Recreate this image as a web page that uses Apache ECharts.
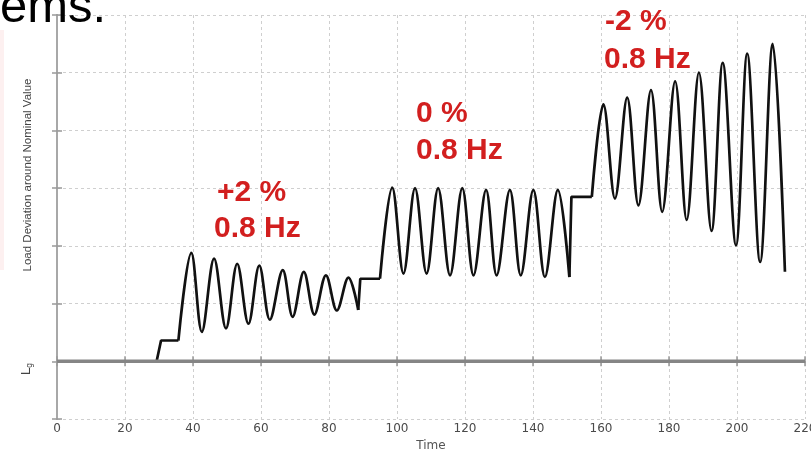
<!DOCTYPE html>
<html lang="en">

<head>
    <meta charset="UTF-8">
    <title>Load Deviation</title>
    <style>
        html, body { margin: 0; padding: 0; background: #fff; }
    </style>
</head>

<body>
    <div id="main" style="width: 811px; height: 449px;"></div>

    <script src="https://cdn.jsdelivr.net/npm/echarts@6/dist/echarts.min.js"></script>
    <script>
        // x ticks
        var timeTicks = [0, 20, 40, 60, 80, 100, 120, 140, 160, 180, 200, 220];

        // nominal value Lg
        var nominal = [[0, 0], [220, 0]];

        // lead-in step
        var leadIn = [[0, 0], [29.3, 0], [30.6, 0.36], [35.7, 0.36]];
        // +2 % swing
        var swing1 = [[35.7, 0.36], [39.5, 1.88], [42.6, 0.51], [46.2, 1.78], [49.7, 0.57], [53.0, 1.69], [56.3, 0.65],
            [59.5, 1.66], [62.6, 0.72], [66.4, 1.58], [69.3, 0.77], [72.6, 1.55], [75.7, 0.81], [79.1, 1.49],
            [82.3, 0.88], [85.7, 1.45], [88.6, 0.89]];
        var step2 = [[88.6, 0.89], [89.2, 1.43], [95.0, 1.43]];
        // 0 % swing
        var swing2 = [[95.0, 1.43], [98.6, 3.01], [101.9, 1.52], [105.3, 3.0], [108.7, 1.52], [112.1, 3.0], [115.6, 1.49],
            [119.2, 3.0], [122.5, 1.49], [126.2, 2.97], [129.3, 1.49], [133.2, 2.97], [136.4, 1.49], [140.1, 2.97],
            [143.5, 1.46], [147.3, 2.97], [150.7, 1.46]];
        var step3 = [[150.7, 1.46], [151.3, 2.85], [157.3, 2.85]];
        // -2 % swing
        var swing3 = [[157.3, 2.85], [160.7, 4.45], [164.1, 2.82], [167.7, 4.57], [171.0, 2.70], [174.7, 4.70], [178.0, 2.59],
            [181.8, 4.85], [185.2, 2.45], [188.8, 5.0], [192.5, 2.26], [195.8, 5.17], [199.7, 2.01], [203.0, 5.33],
            [206.8, 1.72], [210.5, 5.5], [214.1, 1.55]];

        var stepLabels = ['+2 %', '0 %', '-2 %'];
        var freqLabel = '0.8 Hz';

        window.onload = function () {
            var myChart = echarts.init(document.getElementById('main'));

            var frame = { show: true, lineStyle: { color: '#a8a8a8', width: 2 } };
            var innerTick = { show: true, inside: true, length: 5, lineStyle: { color: '#999', width: 1.5 } };
            var grid = { show: true, lineStyle: { color: '#cfcfcf', width: 1, type: [3, 3] } };

            function trace(data, smooth) {
                return {
                    type: 'line',
                    data: data,
                    smooth: smooth,
                    showSymbol: false,
                    silent: true,
                    lineStyle: { color: '#111', width: 2.7 },
                    z: 3
                };
            }

            function note(text, x, y) {
                return {
                    type: 'text', x: x, y: y, z: 10,
                    style: {
                        text: text, fill: '#d21f1f',
                        font: 'bold 30px "Liberation Sans", Arial, sans-serif',
                        textAlign: 'left', textVerticalAlign: 'middle'
                    }
                };
            }

            var option = {
                backgroundColor: '#fff',
                animation: false,
                grid: { left: 57, right: 6, top: 15, bottom: 30, containLabel: false, outerBoundsMode: 'none' },
                xAxis: [
                    {
                        type: 'value', min: timeTicks[0], max: timeTicks[timeTicks.length - 1], interval: 20,
                        name: 'Time', nameLocation: 'middle', nameGap: 17,
                        nameTextStyle: { color: '#555', fontSize: 12, fontFamily: 'DejaVu Sans' },
                        axisLine: frame, axisTick: innerTick, splitLine: grid,
                        axisLabel: { color: '#4a4a4a', fontSize: 12, fontFamily: 'DejaVu Sans', margin: 4 }
                    },
                    {
                        type: 'value', position: 'top', min: 0, max: 220, interval: 20,
                        axisLine: frame, axisTick: innerTick, axisLabel: { show: false }, splitLine: { show: false }
                    }
                ],
                yAxis: [
                    {
                        type: 'value', min: -1, max: 6, interval: 1,
                        axisLine: frame, axisTick: innerTick, splitLine: grid,
                        axisLabel: { show: false }
                    },
                    {
                        type: 'value', position: 'right', min: -1, max: 6, interval: 1,
                        axisLine: frame, axisTick: innerTick, axisLabel: { show: false }, splitLine: { show: false }
                    }
                ],
                series: [
                    trace(leadIn, false),
                    trace(swing1, 0.35),
                    trace(step2, false),
                    trace(swing2, 0.35),
                    trace(step3, false),
                    trace(swing3, 0.35),
                    {
                        name: 'Lg',
                        type: 'line',
                        data: nominal,
                        showSymbol: false,
                        silent: true,
                        lineStyle: { color: '#858585', width: 3.5 },
                        z: 4
                    }
                ],
                graphic: [
                    // slide background bits
                    { type: 'rect', shape: { x: 0, y: 30, width: 4, height: 240 }, style: { fill: '#fdf0f0' }, z: 0 },
                    {
                        type: 'text', x: 0, y: 8, z: 10,
                        style: {
                            text: 'ems.', fill: '#000',
                            font: '49px "Liberation Sans", Arial, sans-serif',
                            textAlign: 'left', textVerticalAlign: 'middle'
                        }
                    },
                    // y axis name
                    {
                        type: 'text', x: 28, y: 175, rotation: Math.PI / 2,
                        style: {
                            text: 'Load Deviation around Nominal Value', fill: '#444',
                            font: '11.5px "Liberation Sans", Arial, sans-serif',
                            textAlign: 'center', textVerticalAlign: 'middle'
                        }
                    },
                    {
                        type: 'text', x: 27, y: 369, rotation: Math.PI / 2,
                        style: {
                            text: '{a|L}{b|g}', fill: '#444',
                            textAlign: 'center', textVerticalAlign: 'middle',
                            rich: {
                                a: { fontSize: 13, fontFamily: 'DejaVu Sans', fill: '#444' },
                                b: { fontSize: 8, fontFamily: 'DejaVu Sans', fill: '#444', padding: [6, 0, 0, 0] }
                            }
                        }
                    },
                    note(stepLabels[0], 217, 193),
                    note(freqLabel, 214, 229),
                    note(stepLabels[1], 416, 114),
                    note(freqLabel, 416, 151),
                    note(stepLabels[2], 605, 22),
                    note(freqLabel, 604, 60)
                ]
            };
            myChart.setOption(option);
        }
    </script>
</body>

</html>
